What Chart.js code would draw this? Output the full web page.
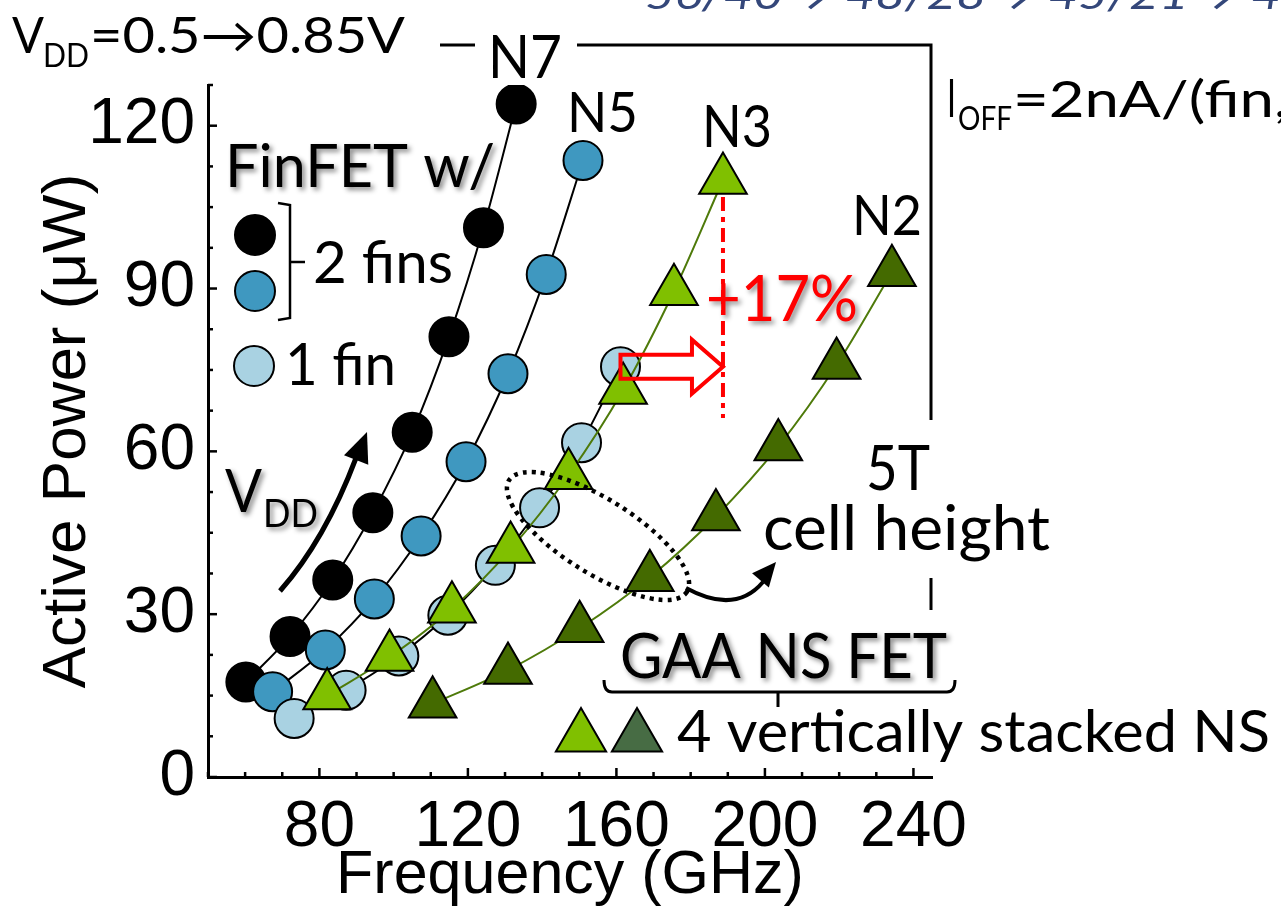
<!DOCTYPE html>
<html>
<head>
<meta charset="utf-8">
<title>Active power vs frequency</title>
<script src="https://cdn.jsdelivr.net/npm/chart.js@4.4.1/dist/chart.umd.min.js"></script>
<style>
  html, body { margin: 0; padding: 0; background: #fff; overflow: hidden; }
  #wrap { width: 1281px; height: 913px; }
</style>
</head>
<body>
<div id="wrap"><canvas id="powerChart" width="1281" height="913"></canvas></div>
<script>
// values: frequency (GHz) / active power (uW)
const n7Freq = [60.2, 72.1, 83.6, 94.4, 105.0, 114.9, 124.2, 133.0];
const n7Power = [17.5, 25.9, 36.3, 48.7, 63.5, 81.1, 101.2, 124.0];
const n5Freq = [67.4, 81.6, 94.8, 107.4, 119.5, 130.8, 141.1, 151.0];
const n5Power = [15.7, 23.4, 32.8, 44.4, 58.1, 74.3, 92.6, 113.6];
const fin1Freq = [73.2, 87.2, 101.4, 114.6, 127.4, 139.3, 150.6, 161.1];
const fin1Power = [10.8, 16.0, 22.3, 29.8, 39.0, 49.6, 61.6, 75.6];
const n3Freq = [82.1, 98.9, 115.7, 131.5, 147.1, 161.8, 175.5, 188.7];
const n3Power = [15.0, 22.1, 31.0, 42.0, 55.6, 71.3, 89.5, 110.0];
const n2Freq = [110.5, 130.8, 150.1, 169.0, 186.8, 203.6, 219.3, 234.2];
const n2Power = [13.5, 19.7, 27.4, 36.8, 48.0, 60.9, 75.9, 93.0];

// tick marks (minor + major) and the labelled ones
const xTicks = [50, 60, 70, 80, 90, 100, 110, 120, 130, 140, 150, 160, 170, 180, 190, 200, 210, 220, 230, 240];
const yTicks = [0, 7.5, 15, 22.5, 30, 37.5, 45, 52.5, 60, 67.5, 75, 82.5, 90, 97.5, 105, 112.5, 120, 127.5];
const xMajor = [80, 120, 160, 200, 240];
const yMajor = [0, 30, 60, 90, 120];

const AXIS_FONT = "'Liberation Sans Narrow', 'Liberation Sans', Arial, sans-serif";
const TITLE_FONT = "'Liberation Sans', Arial, sans-serif";
const ANN_FONT = "Lato, 'Open Sans', sans-serif";

const BLACK = "#000000";
const BLUE = "#3f98c0";
const LIGHT_BLUE = "#a9d2e2";
const LIGHT_GREEN = "#80c000";
const DARK_GREEN = "#446a00";
const LEGEND_DARK_GREEN = "#476c44";
const GREEN_LINE = "#4e7a0a";

function pts(xs, ys) {
  return xs.map((x, i) => ({ x: x, y: ys[i] }));
}

function series(label, xs, ys, fill, lineColor, style, radius, order) {
  return {
    label: label,
    data: pts(xs, ys),
    showLine: true,
    borderColor: lineColor,
    borderWidth: 2,
    cubicInterpolationMode: "monotone",
    pointStyle: style,
    pointRadius: radius,
    pointHoverRadius: radius,
    pointBackgroundColor: fill,
    pointBorderColor: BLACK,
    pointBorderWidth: 2,
    order: order,
  };
}

function isIn(list, v) {
  return list.some((t) => Math.abs(t - v) < 1e-6);
}

function drawText(ctx, s, x, y, size, w, opts) {
  opts = opts || {};
  ctx.save();
  ctx.font = (opts.style || "") + " " + size + "px " + (opts.family || ANN_FONT);
  ctx.fillStyle = opts.color || "#000";
  ctx.textBaseline = "alphabetic";
  ctx.textAlign = "left";
  if (opts.shadow) {
    ctx.shadowColor = "rgba(0,0,0,0.45)";
    ctx.shadowBlur = 5;
    ctx.shadowOffsetX = 3;
    ctx.shadowOffsetY = 3;
  }
  const m = ctx.measureText(s).width;
  ctx.translate(x, y);
  if (w) ctx.scale(w / m, 1);
  ctx.fillText(s, 0, 0);
  ctx.restore();
}

function marker(ctx, kind, x, y, r, fill) {
  ctx.save();
  ctx.beginPath();
  if (kind === "circle") {
    ctx.arc(x, y, r, 0, Math.PI * 2);
  } else {
    for (let k = 0; k < 3; k++) {
      const a = (k * 2 * Math.PI) / 3;
      const px = x + Math.sin(a) * r;
      const py = y - Math.cos(a) * r;
      if (k === 0) ctx.moveTo(px, py);
      else ctx.lineTo(px, py);
    }
    ctx.closePath();
  }
  ctx.fillStyle = fill;
  ctx.fill();
  ctx.lineWidth = 2;
  ctx.strokeStyle = "#000";
  ctx.stroke();
  ctx.restore();
}

function arrowHead(ctx, tipX, tipY, dx, dy, len, half, color) {
  const n = Math.hypot(dx, dy);
  const ux = dx / n, uy = dy / n;
  const bx = tipX - ux * len, by = tipY - uy * len;
  ctx.beginPath();
  ctx.moveTo(tipX, tipY);
  ctx.lineTo(bx - uy * half, by + ux * half);
  ctx.lineTo(bx + uy * half, by - ux * half);
  ctx.closePath();
  ctx.fillStyle = color;
  ctx.fill();
}

// inward tick marks on both axes
const innerTicks = {
  id: "innerTicks",
  afterDraw(chart) {
    const ctx = chart.ctx;
    const xs = chart.scales.x, ys = chart.scales.y;
    const area = chart.chartArea;
    ctx.save();
    ctx.strokeStyle = "#000";
    ctx.lineWidth = 2.5;
    xs.ticks.forEach((t) => {
      const px = xs.getPixelForValue(t.value);
      const len = isIn(xMajor, t.value) ? 9 : 5;
      ctx.beginPath();
      ctx.moveTo(px, area.bottom);
      ctx.lineTo(px, area.bottom - len);
      ctx.stroke();
    });
    ys.ticks.forEach((t) => {
      const py = ys.getPixelForValue(t.value);
      const len = isIn(yMajor, t.value) ? 9 : 5;
      ctx.beginPath();
      ctx.moveTo(area.left, py);
      ctx.lineTo(area.left + len, py);
      ctx.stroke();
    });
    ctx.restore();
  },
};

const notes = {
  id: "notes",
  afterDatasetsDraw(chart) {
    const ctx = chart.ctx;
    const xs = chart.scales.x, ys = chart.scales.y;

    // top cut-off line of text
    drawText(ctx, "56/40  \u219748/28  \u219745/21  \u21974", 645, 9, 40, 636,
      { style: "italic", color: "#34477a" });

    // VDD range
    drawText(ctx, "V", 12, 53, 50, 32);
    drawText(ctx, "DD", 43, 67, 32, 46);
    drawText(ctx, "=0.5\u21920.85V", 90, 53, 50, 315);

    // IOFF
    drawText(ctx, "I", 947, 117, 52, 9);
    drawText(ctx, "OFF", 958, 130, 32, 54);
    drawText(ctx, "=2nA/(fin,", 1013, 117, 50, 275);

    // N7 bracket lines
    ctx.save();
    ctx.strokeStyle = "#000";
    ctx.lineWidth = 3;
    ctx.beginPath();
    ctx.moveTo(440, 45);
    ctx.lineTo(475, 45);
    ctx.moveTo(577, 45);
    ctx.lineTo(931, 45);
    ctx.lineTo(931, 420);
    ctx.moveTo(931, 578);
    ctx.lineTo(931, 610);
    ctx.stroke();
    ctx.restore();

    drawText(ctx, "N7", 488, 78, 60, 74);
    drawText(ctx, "N5", 567, 132, 56, 71);
    drawText(ctx, "N3", 702, 147, 58, 70);
    drawText(ctx, "N2", 852, 235, 56, 70);

    // FinFET legend
    drawText(ctx, "FinFET w/", 225, 187, 60, 270, { shadow: true });
    marker(ctx, "circle", 255, 235, 20, BLACK);
    marker(ctx, "circle", 255, 291, 20, BLUE);
    marker(ctx, "circle", 254, 366, 20, LIGHT_BLUE);
    ctx.save();
    ctx.strokeStyle = "#000";
    ctx.lineWidth = 2.5;
    ctx.beginPath();
    ctx.moveTo(278, 203);
    ctx.lineTo(290, 205);
    ctx.lineTo(290, 318);
    ctx.lineTo(278, 320);
    ctx.moveTo(290, 262);
    ctx.lineTo(305, 262);
    ctx.stroke();
    ctx.restore();
    drawText(ctx, "2 fins", 313, 283, 58, 140);
    drawText(ctx, "1 fin", 285, 385, 58, 111);

    // VDD arrow
    drawText(ctx, "V", 225, 512, 60, 37, { shadow: true });
    drawText(ctx, "DD", 263, 527, 38, 55, { shadow: true });
    ctx.save();
    ctx.strokeStyle = "#000";
    ctx.lineWidth = 5;
    ctx.beginPath();
    ctx.moveTo(280, 591);
    ctx.quadraticCurveTo(325, 540, 356, 458);
    ctx.stroke();
    arrowHead(ctx, 367, 432, 33, -85, 30, 13, "#000");
    ctx.restore();

    // +17% marks, tied to the top N3 and top 1-fin points
    const n3x = xs.getPixelForValue(n3Freq[n3Freq.length - 1]);
    const n3y = ys.getPixelForValue(n3Power[n3Power.length - 1]);
    const f1x = xs.getPixelForValue(fin1Freq[fin1Freq.length - 1]);
    const f1y = ys.getPixelForValue(fin1Power[fin1Power.length - 1]);
    ctx.save();
    ctx.strokeStyle = "#ff0000";
    ctx.lineWidth = 4;
    ctx.setLineDash([14, 6, 5, 6]);
    ctx.beginPath();
    ctx.moveTo(n3x, n3y + 17);
    ctx.lineTo(n3x, 418);
    ctx.stroke();
    ctx.setLineDash([]);
    ctx.lineJoin = "miter";
    const hx = n3x - 31;
    ctx.beginPath();
    ctx.moveTo(f1x, f1y - 12);
    ctx.lineTo(hx, f1y - 12);
    ctx.lineTo(hx, f1y - 27);
    ctx.lineTo(n3x, f1y);
    ctx.lineTo(hx, f1y + 27);
    ctx.lineTo(hx, f1y + 12);
    ctx.lineTo(f1x, f1y + 12);
    ctx.closePath();
    ctx.stroke();
    ctx.restore();
    drawText(ctx, "+17%", 706, 321, 64, 152, { color: "#ff0000", shadow: true });

    // dotted ellipse and arrow to "cell height"
    ctx.save();
    ctx.strokeStyle = "#000";
    ctx.lineWidth = 4.5;
    ctx.setLineDash([4, 5]);
    ctx.beginPath();
    ctx.ellipse(598, 536, 105, 37, 0.56, 0, Math.PI * 2);
    ctx.stroke();
    ctx.setLineDash([]);
    ctx.lineWidth = 4;
    ctx.beginPath();
    ctx.moveTo(686, 588);
    ctx.quadraticCurveTo(735, 615, 763, 582);
    ctx.stroke();
    arrowHead(ctx, 776, 562, 28, -33, 24, 11, "#000");
    ctx.restore();
    drawText(ctx, "5T", 866, 490, 62, 64);
    drawText(ctx, "cell height", 763, 550, 62, 287);

    // GAA legend
    drawText(ctx, "GAA NS FET", 620, 678, 62, 327, { shadow: true });
    ctx.save();
    ctx.strokeStyle = "#000";
    ctx.lineWidth = 3;
    ctx.beginPath();
    ctx.moveTo(604, 680);
    ctx.quadraticCurveTo(604, 692, 612, 692);
    ctx.lineTo(947, 692);
    ctx.quadraticCurveTo(955, 692, 955, 680);
    ctx.moveTo(778, 692);
    ctx.lineTo(778, 707);
    ctx.stroke();
    ctx.restore();
    marker(ctx, "triangle", 581, 737, 29, LIGHT_GREEN);
    marker(ctx, "triangle", 637, 737, 29, LEGEND_DARK_GREEN);
    drawText(ctx, "4 vertically stacked NS", 677, 752, 58, 593);
  },
};

window.onload = function () {
  const ctx = document.getElementById("powerChart").getContext("2d");
  new Chart(ctx, {
    type: "scatter",
    data: {
      datasets: [
        series("N2", n2Freq, n2Power, DARK_GREEN, GREEN_LINE, "triangle", 27.5, 1),
        series("N3", n3Freq, n3Power, LIGHT_GREEN, GREEN_LINE, "triangle", 27.5, 2),
        series("1 fin", fin1Freq, fin1Power, LIGHT_BLUE, BLACK, "circle", 19.5, 3),
        series("N5", n5Freq, n5Power, BLUE, BLACK, "circle", 19.5, 4),
        series("N7", n7Freq, n7Power, BLACK, BLACK, "circle", 19.5, 5),
      ],
    },
    options: {
      responsive: false,
      animation: false,
      events: [],
      layout: { padding: { left: 0, right: 349, top: 85, bottom: 0 } },
      plugins: {
        legend: { display: false },
        tooltip: { enabled: false },
      },
      scales: {
        x: {
          type: "linear",
          min: 50,
          max: 245,
          afterFit: (s) => { s.height = 136; },
          afterBuildTicks: (s) => {
            s.ticks = xTicks.map((v) => ({ value: v }));
          },
          ticks: {
            autoSkip: false,
            maxRotation: 0,
            padding: 13,
            color: "#000",
            font: { family: AXIS_FONT, size: 64, lineHeight: 1.2 },
            callback: (v) => (isIn(xMajor, v) ? String(v) : ""),
          },
          grid: { display: false, drawTicks: false },
          border: { display: true, color: "#000", width: 3 },
          title: {
            display: true,
            text: "Frequency (GHz)",
            color: "#000",
            font: { family: TITLE_FONT, size: 61, lineHeight: 1.2 },
            padding: { top: 0, bottom: 0 },
          },
        },
        y: {
          type: "linear",
          min: 0,
          max: 127.5,
          afterFit: (s) => { s.width = 208; },
          afterBuildTicks: (s) => {
            s.ticks = yTicks.map((v) => ({ value: v }));
          },
          ticks: {
            autoSkip: false,
            padding: 13,
            color: "#000",
            font: { family: AXIS_FONT, size: 64, lineHeight: 1.2 },
            callback: (v) => (isIn(yMajor, v) ? String(v) : ""),
          },
          grid: { display: false, drawTicks: false },
          border: { display: true, color: "#000", width: 3 },
          title: {
            display: true,
            text: "Active Power (\u03bcW)",
            color: "#000",
            font: { family: TITLE_FONT, size: 62, lineHeight: 1.2 },
            padding: { top: 31, bottom: 0 },
          },
        },
      },
    },
    plugins: [innerTicks, notes],
  });
};
</script>
</body>
</html>
